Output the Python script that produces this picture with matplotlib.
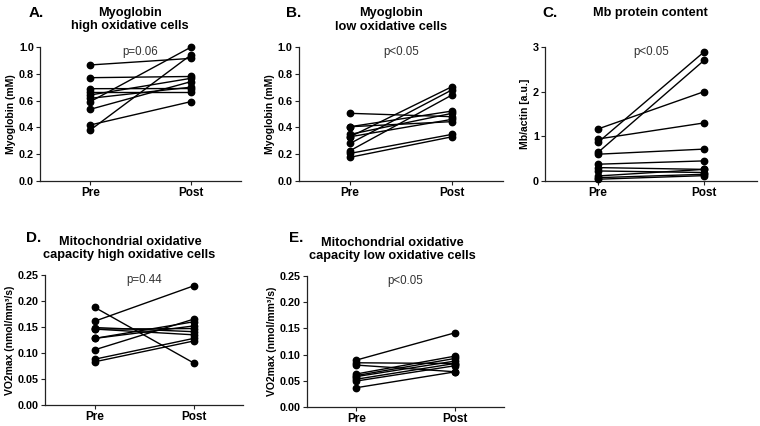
import matplotlib
matplotlib.use('Agg')
import matplotlib.pyplot as plt
from matplotlib.ticker import FormatStrFormatter

plt.rcParams['font.family'] = ['Liberation Sans', 'DejaVu Sans']
plt.rcParams['font.weight'] = 'bold'

# valores (Pre -> Post)
groups = ['Pre', 'Post']

a_pre = [0.866, 0.771, 0.689, 0.666, 0.642, 0.617, 0.592, 0.535, 0.418, 0.380]
a_post = [0.915, 0.780, 0.690, 0.666, 0.766, 0.700, 0.998, 0.741, 0.592, 0.940]

b_pre = [0.505, 0.405, 0.405, 0.348, 0.330, 0.330, 0.280, 0.226, 0.206, 0.177]
b_post = [0.480, 0.522, 0.443, 0.505, 0.704, 0.460, 0.680, 0.642, 0.348, 0.330]

c_pre = [1.165, 0.940, 0.865, 0.640, 0.600, 0.376, 0.300, 0.225, 0.113, 0.075, 0.040]
c_post = [2.000, 1.300, 2.890, 2.700, 0.714, 0.450, 0.260, 0.190, 0.260, 0.150, 0.120]

d_pre = [0.188, 0.161, 0.149, 0.146, 0.146, 0.128, 0.128, 0.106, 0.088, 0.083]
d_post = [0.081, 0.229, 0.141, 0.135, 0.147, 0.160, 0.152, 0.165, 0.128, 0.123]

e_pre = [0.0895, 0.0844, 0.080, 0.063, 0.060, 0.058, 0.053, 0.0495, 0.0368]
e_post = [0.1415, 0.083, 0.0673, 0.097, 0.0926, 0.0876, 0.083, 0.0787, 0.067]

W, H = 760, 426
fig = plt.figure(figsize=(W / 100, H / 100), dpi=100)


def px_axes(l, r, t, b):
    return fig.add_axes([l / W, 1 - b / H, (r - l) / W, (b - t) / H])


def painel(ax, pre, post, ylim, yticks, fmt, ylabel, ptxt):
    for y0, y1 in zip(pre, post):
        ax.plot([0, 1], [y0, y1], color='black', lw=1.0, marker='o',
                markersize=4.6, clip_on=False, zorder=3)
    ax.set_xlim(-0.5, 1.5)
    ax.set_ylim(*ylim)
    ax.set_yticks(yticks)
    ax.yaxis.set_major_formatter(FormatStrFormatter(fmt))
    ax.set_xticks([0, 1])
    ax.set_xticklabels(groups, fontsize=8.5, fontweight='bold')
    for lab in ax.get_yticklabels():
        lab.set_fontsize(7.8)
        lab.set_fontweight('bold')
    ax.spines['top'].set_visible(False)
    ax.spines['right'].set_visible(False)
    for s in ['left', 'bottom']:
        ax.spines[s].set_color('#222222')
        ax.spines[s].set_linewidth(0.9)
    ax.tick_params(axis='both', direction='out', length=3, width=0.8,
                   color='#222222', pad=1.5)
    ax.set_ylabel(ylabel, fontsize=7.5, fontweight='bold', labelpad=2)
    ax.text(0.5, 0.965, ptxt, transform=ax.transAxes, ha='center', va='center',
            fontsize=8.3, fontweight='normal', color='#333333')


axA = px_axes(40, 241, 47, 181)
painel(axA, a_pre, a_post, (0, 1.0), [0, 0.2, 0.4, 0.6, 0.8, 1.0], '%.1f',
       'Myoglobin (mM)', 'p=0.06')
axB = px_axes(299, 503, 47, 181)
painel(axB, b_pre, b_post, (0, 1.0), [0, 0.2, 0.4, 0.6, 0.8, 1.0], '%.1f',
       'Myoglobin (mM)', 'p<0.05')
axC = px_axes(545, 757, 47, 181)
painel(axC, c_pre, c_post, (0, 3), [0, 1, 2, 3], '%d',
       'Mb/actin [a.u.]', 'p<0.05')
axD = px_axes(45, 243, 275, 405)
painel(axD, d_pre, d_post, (0, 0.25), [0, 0.05, 0.10, 0.15, 0.20, 0.25], '%.2f',
       'VO2max (nmol/mm³/s)', 'p=0.44')
axE = px_axes(307, 504, 276, 407)
painel(axE, e_pre, e_post, (0, 0.25), [0, 0.05, 0.10, 0.15, 0.20, 0.25], '%.2f',
       'VO2max (nmol/mm³/s)', 'p<0.05')


def texto(x, y, s, **kw):
    fig.text(x / W, 1 - y / H, s, ha='center', va='center', **kw)


# letras dos painéis
for x, y, s in [(36, 13, 'A.'), (294, 13, 'B.'), (550, 13, 'C.'),
                (34, 238, 'D.'), (296, 238, 'E.')]:
    texto(x, y, s, fontsize=11, fontweight='bold')

# títulos
titulos = [(130, 13, 'Myoglobin'), (130, 26, 'high oxidative cells'),
           (391, 13, 'Myoglobin'), (391, 27, 'low oxidative cells'),
           (650, 13, 'Mb protein content'),
           (130, 242, 'Mitochondrial oxidative'),
           (129, 255, 'capacity high oxidative cells'),
           (392, 243, 'Mitochondrial oxidative'),
           (392, 256, 'capacity low oxidative cells')]
for x, y, s in titulos:
    texto(x, y, s, fontsize=9.2, fontweight='bold')

fig.savefig('out.png', dpi=100, facecolor='white')
